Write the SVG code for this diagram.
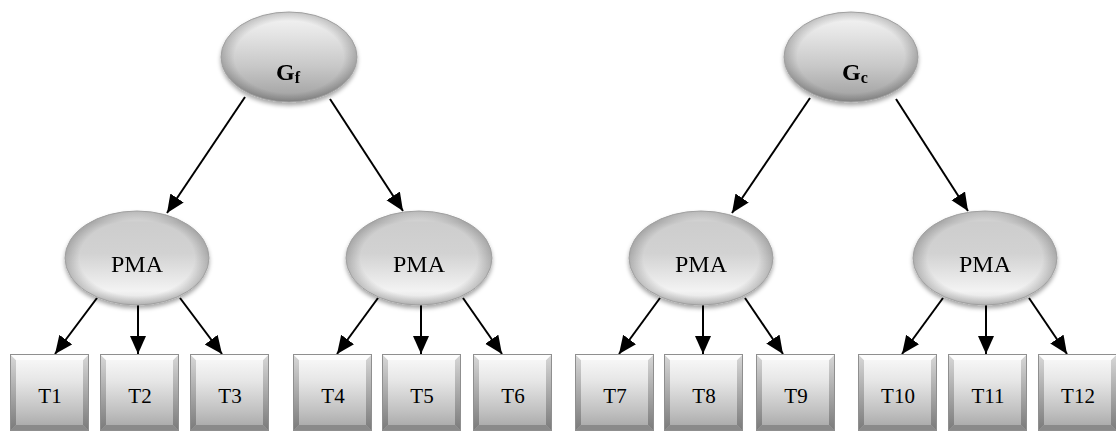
<svg xmlns="http://www.w3.org/2000/svg" width="1116" height="433" viewBox="0 0 1116 433">
  <defs>
    <!-- shading for the two root ovals: light on top, darker toward the base -->
    <linearGradient id="rootFill" x1="0" y1="0" x2="0" y2="1">
      <stop offset="0" stop-color="#f6f6f6"/>
      <stop offset="0.25" stop-color="#e4e4e4"/>
      <stop offset="0.6" stop-color="#c8c8c8"/>
      <stop offset="1" stop-color="#9e9e9e"/>
    </linearGradient>
    <!-- shading for the PMA ovals: grey upper band, pale lower area -->
    <linearGradient id="pmaFill" x1="0" y1="0" x2="0" y2="1">
      <stop offset="0" stop-color="#e6e6e6"/>
      <stop offset="0.12" stop-color="#cdcdcd"/>
      <stop offset="0.45" stop-color="#d2d2d2"/>
      <stop offset="0.85" stop-color="#f3f3f3"/>
      <stop offset="1" stop-color="#dcdcdc"/>
    </linearGradient>
    <!-- darkened rim for the ovals -->
    <radialGradient id="rim" cx="0.5" cy="0.5" r="0.5">
      <stop offset="0.8" stop-color="#000" stop-opacity="0"/>
      <stop offset="1" stop-color="#000" stop-opacity="0.2"/>
    </radialGradient>
    <!-- tile face and bevel strips -->
    <linearGradient id="tileFace" x1="0" y1="0" x2="0" y2="1">
      <stop offset="0" stop-color="#fbfbfb"/>
      <stop offset="0.35" stop-color="#e6e6e6"/>
      <stop offset="0.75" stop-color="#c0c0c0"/>
      <stop offset="1" stop-color="#a4a4a4"/>
    </linearGradient>
    <linearGradient id="tileSide" x1="0" y1="0" x2="0" y2="1">
      <stop offset="0" stop-color="#d8d8d8"/>
      <stop offset="1" stop-color="#7a7a7a"/>
    </linearGradient>
    <filter id="shadow" x="-10%" y="-10%" width="120%" height="130%">
      <feDropShadow dx="0" dy="3" stdDeviation="2" flood-color="#000" flood-opacity="0.35"/>
    </filter>
    <marker id="head" markerUnits="userSpaceOnUse" markerWidth="19" markerHeight="17" refX="18" refY="8" orient="auto">
      <path d="M0,0 L18,8 L0,16 z" fill="#000"/>
    </marker>
    <!-- one bevelled tile, 79 x 77 -->
    <g id="tile">
      <rect x="0" y="0" width="79" height="77" fill="url(#tileFace)"/>
      <polygon points="0,0 6,6 6,71 0,77" fill="url(#tileSide)"/>
      <polygon points="79,0 73,6 73,71 79,77" fill="url(#tileSide)"/>
      <polygon points="0,0 79,0 73,6 6,6" fill="#fdfdfd"/>
      <polygon points="0,77 6,71 73,71 79,77" fill="#8a8a8a"/>
      <rect x="0.5" y="0.5" width="78" height="76" fill="none" stroke="#8f8f8f" stroke-width="1"/>
    </g>
  </defs>

  <style>
    .conn line { stroke: #000; stroke-width: 2; marker-end: url(#head); }
    .root { fill: url(#rootFill); }
    .pma { fill: url(#pmaFill); }
    .oval-rim { fill: url(#rim); stroke: #a0a0a0; stroke-width: 1; }
    .lbl { font-family: "Liberation Serif", "Times New Roman", serif; fill: #000; text-anchor: middle; }
    .pmaText { font-size: 24px; }
    .tText { font-size: 21px; }
    .rootText { font-size: 24px; font-weight: bold; }
    .sub { font-size: 16px; }
  </style>

  <rect width="1116" height="433" fill="#fff"/>

  <!-- connectors -->
  <g id="connectors" class="conn">
    <line x1="245" y1="97" x2="167" y2="213"/>
    <line x1="330" y1="99" x2="403" y2="211"/>
    <line x1="810" y1="98" x2="732" y2="213"/>
    <line x1="896" y1="99" x2="968" y2="211"/>

    <line x1="97" y1="298" x2="55" y2="354"/>
    <line x1="138" y1="305" x2="138" y2="354"/>
    <line x1="180" y1="298" x2="222" y2="354"/>

    <line x1="378" y1="298" x2="337" y2="354"/>
    <line x1="421" y1="305" x2="421" y2="354"/>
    <line x1="463" y1="298" x2="502" y2="354"/>

    <line x1="660" y1="298" x2="619" y2="354"/>
    <line x1="703" y1="305" x2="703" y2="354"/>
    <line x1="745" y1="298" x2="783" y2="354"/>

    <line x1="943" y1="298" x2="902" y2="354"/>
    <line x1="986" y1="305" x2="986" y2="354"/>
    <line x1="1029" y1="298" x2="1067" y2="354"/>
  </g>

  <!-- root nodes -->
  <g id="node-gf" filter="url(#shadow)">
    <ellipse class="root" cx="289" cy="57" rx="68" ry="45"/>
    <ellipse class="oval-rim" cx="289" cy="57" rx="68" ry="45"/>
    <text class="lbl rootText" x="288" y="80">G<tspan class="sub" dy="3">f</tspan></text>
  </g>
  <g id="node-gc" filter="url(#shadow)">
    <ellipse class="root" cx="851" cy="57" rx="67" ry="45"/>
    <ellipse class="oval-rim" cx="851" cy="57" rx="67" ry="45"/>
    <text class="lbl rootText" x="855" y="80">G<tspan class="sub" dy="3">c</tspan></text>
  </g>

  <!-- PMA nodes -->
  <g id="node-pma1" filter="url(#shadow)">
    <ellipse class="pma" cx="137" cy="258" rx="72" ry="47"/>
    <ellipse class="oval-rim" cx="137" cy="258" rx="72" ry="47"/>
    <text class="lbl pmaText" x="137" y="272">PMA</text>
  </g>
  <g id="node-pma2" filter="url(#shadow)">
    <ellipse class="pma" cx="419" cy="258" rx="73" ry="47"/>
    <ellipse class="oval-rim" cx="419" cy="258" rx="73" ry="47"/>
    <text class="lbl pmaText" x="419" y="272">PMA</text>
  </g>
  <g id="node-pma3" filter="url(#shadow)">
    <ellipse class="pma" cx="701" cy="258" rx="72" ry="47"/>
    <ellipse class="oval-rim" cx="701" cy="258" rx="72" ry="47"/>
    <text class="lbl pmaText" x="701" y="272">PMA</text>
  </g>
  <g id="node-pma4" filter="url(#shadow)">
    <ellipse class="pma" cx="985" cy="258" rx="72" ry="47"/>
    <ellipse class="oval-rim" cx="985" cy="258" rx="72" ry="47"/>
    <text class="lbl pmaText" x="985" y="272">PMA</text>
  </g>

  <!-- task tiles -->
  <g id="node-t1"><use href="#tile" x="10" y="354"/><text class="lbl tText" x="50" y="403">T1</text></g>
  <g id="node-t2"><use href="#tile" x="100" y="354"/><text class="lbl tText" x="140" y="403">T2</text></g>
  <g id="node-t3"><use href="#tile" x="190" y="354"/><text class="lbl tText" x="230" y="403">T3</text></g>
  <g id="node-t4"><use href="#tile" x="293" y="354"/><text class="lbl tText" x="333" y="403">T4</text></g>
  <g id="node-t5"><use href="#tile" x="382" y="354"/><text class="lbl tText" x="422" y="403">T5</text></g>
  <g id="node-t6"><use href="#tile" x="473" y="354"/><text class="lbl tText" x="513" y="403">T6</text></g>
  <g id="node-t7"><use href="#tile" x="575" y="354"/><text class="lbl tText" x="615" y="403">T7</text></g>
  <g id="node-t8"><use href="#tile" x="664" y="354"/><text class="lbl tText" x="704" y="403">T8</text></g>
  <g id="node-t9"><use href="#tile" x="756" y="354"/><text class="lbl tText" x="796" y="403">T9</text></g>
  <g id="node-t10"><use href="#tile" x="858" y="354"/><text class="lbl tText" x="898" y="403">T10</text></g>
  <g id="node-t11"><use href="#tile" x="948" y="354"/><text class="lbl tText" x="988" y="403">T11</text></g>
  <g id="node-t12"><use href="#tile" x="1038" y="354"/><text class="lbl tText" x="1078" y="403">T12</text></g>
</svg>
